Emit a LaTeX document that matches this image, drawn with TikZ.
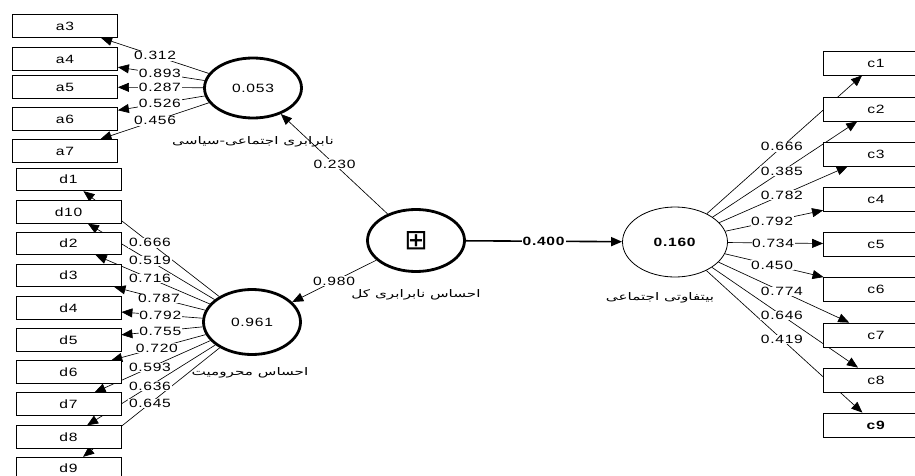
\documentclass[tikz,border=0pt]{standalone}
\usepackage{fontspec}
\setmainfont{Liberation Sans}[FakeStretch=1.3,LetterSpace=6]
\newfontfamily\farsi[Script=Arabic,FakeStretch=1.45]{DejaVu Sans}
\newfontfamily\symb{DejaVu Sans}
\TeXXeTstate=1
\usetikzlibrary{arrows.meta,backgrounds,shapes.geometric}

\tikzset{
  item/.style={draw,fill=white,line width=0.8pt,minimum width=105pt,minimum height=23pt,inner sep=0pt,font=\fontsize{12}{14}\selectfont},
  lv/.style={draw,ellipse,fill=white,line width=2.8pt,minimum width=97pt,minimum height=60pt,inner sep=0pt,font=\fontsize{12}{14}\selectfont},
  load/.style={fill=white,inner sep=0.6pt,font=\fontsize{12}{14}\selectfont},
  ind/.style={-{Triangle[length=11pt,width=9pt]},line width=0.65pt},
  lvname/.style={inner sep=0pt,font=\farsi\fontsize{10.5}{12}\selectfont}
}

\begin{document}
\begin{tikzpicture}[x=1pt,y=-1pt]
  \useasboundingbox (0,0) rectangle (915,476);
  \clip (0,0) rectangle (915,476);

  % latent variables
  \node[lv] (soc) at (253,88) {0.053};
  \node[lv,minimum height=65pt] (dep) at (252,322) {0.961};
  \node[lv,minimum height=62pt,font=\symb\fontsize{28}{28}\selectfont] (tot) at (416,240.5) {⊞};
  \node[lv,line width=0.8pt,minimum width=105pt,minimum height=70pt] (ind) at (675,242) {\textbf{0.160}};

  \node[lvname] (soctxt) at (253,142) {\beginR نابرابری اجتماعی-سیاسی\endR};
  \node[lvname] (deptxt) at (250,373) {\beginR احساس محرومیت\endR};
  \node[lvname] (tottxt) at (416,295) {\beginR احساس نابرابری کل\endR};
  \node[lvname] (indtxt) at (660,298) {\beginR بیتفاوتی اجتماعی\endR};

  % inner model
  \begin{scope}[on background layer]
    \draw[ind] (tot) -- (soc);
    \draw[ind] (tot) -- (dep);
    \draw[ind,line width=1.6pt] (tot) -- (ind);
  \end{scope}
  \path (tot.center) -- node[load] {0.230} (soc.center);
  \path (tot.center) -- node[load] {0.980} (dep.center);
  \path (tot.center) -- node[load,pos=0.494] {\textbf{0.400}} (ind.center);

  % outer model
  \foreach \n/\y/\v/\p in {a3/26/0.312/0.521, a4/59/0.893/0.495, a5/87/0.287/0.495,
      a6/119/0.526/0.495, a7/151/0.456/0.521} {
    \node[item] (\n) at (65,\y) {\n};
    \begin{scope}[on background layer]
      \draw[ind] (soc) -- (\n);
    \end{scope}
    \path (soc.center) -- node[load,pos=\p] {\v} (\n.center);
  }
  \foreach \n/\y/\v/\p in {d1/179.5/0.666/0.556, d10/212/0.519/0.556, d2/243.5/0.716/0.556,
      d3/275.5/0.787/0.507, d4/308/0.792/0.5, d5/340/0.755/0.5, d6/372/0.720/0.518,
      d7/404/0.593/0.556, d8/437/0.636/0.556, d9/468.5/0.645/0.556} {
    \node[item,minimum height=22.5pt] (\n) at (68.5,\y) {\n};
    \begin{scope}[on background layer]
      \draw[ind] (dep) -- (\n);
    \end{scope}
    \path (dep.center) -- node[load,pos=\p] {\v} (\n.center);
  }
  \foreach \n/\y/\v/\p in {c1/63/0.666/0.532, c2/109/0.385/0.532, c3/154/0.782/0.532,
      c4/199/0.792/0.483, c5/244/0.734/0.488, c6/289.5/0.450/0.483, c7/335/0.774/0.532,
      c8/380/0.646/0.532, c9/425/0.419/0.532} {
    \node[item,minimum height=24pt] (\n) at (876,\y) {\n};
    \begin{scope}[on background layer]
      \draw[ind] (ind) -- (\n);
    \end{scope}
    \path (ind.center) -- node[load,pos=\p] {\v} (\n.center);
  }
  \node[item,minimum height=24pt] (c9b) at (c9) {\textbf{c9}};
\end{tikzpicture}
\end{document}
